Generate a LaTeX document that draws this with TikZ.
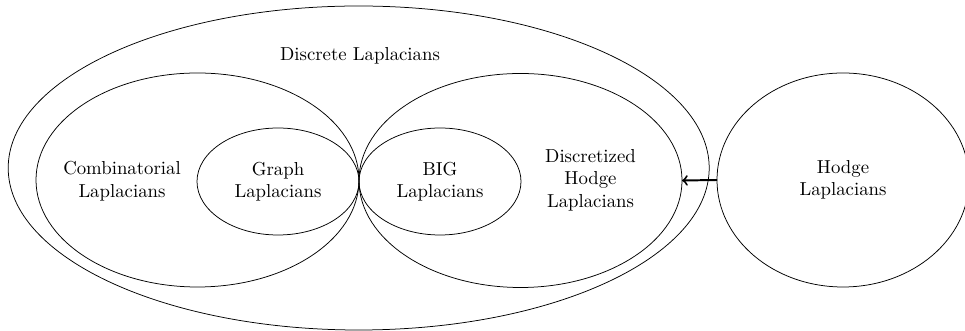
\documentclass[tikz,border=0pt]{standalone}
\usetikzlibrary{shapes.geometric}
\begin{document}
\begin{tikzpicture}[x=0.5324pt,y=-0.5324pt,
  set/.style={draw,ellipse,inner sep=0pt,outer sep=0pt,align=center},
  lbl/.style={align=center,inner sep=0pt}]
\useasboundingbox (0,0) rectangle (965,331);
\node[set,minimum width={701*0.5324pt},minimum height={324*0.5324pt}] (disc) at (358.7,168) {};
\node[lbl] (disclbl) at (360,56) {Discrete Laplacians};
\node[set,minimum width={323*0.5324pt},minimum height={214*0.5324pt}] (comb) at (197.5,180) {};
\node[lbl] (comblbl) at (122,181) {Combinatorial\\Laplacians};
\node[set,minimum width={162*0.5324pt},minimum height={107*0.5324pt}] (graph) at (278,181.5) {Graph\\Laplacians};
\node[set,minimum width={323*0.5324pt},minimum height={214*0.5324pt}] (dhl) at (520.5,180.5) {};
\node[lbl] (dhllbl) at (590.5,180) {Discretized\\Hodge\\Laplacians};
\node[set,minimum width={162*0.5324pt},minimum height={107*0.5324pt}] (big) at (440,181.5) {BIG\\Laplacians};
\node[set,minimum width={252*0.5324pt},minimum height={214*0.5324pt}] (hodge) at (843,180) {Hodge\\Laplacians};
\draw[->,line width=1.05pt] (hodge.west) -- (dhl.east);
\end{tikzpicture}
\end{document}
